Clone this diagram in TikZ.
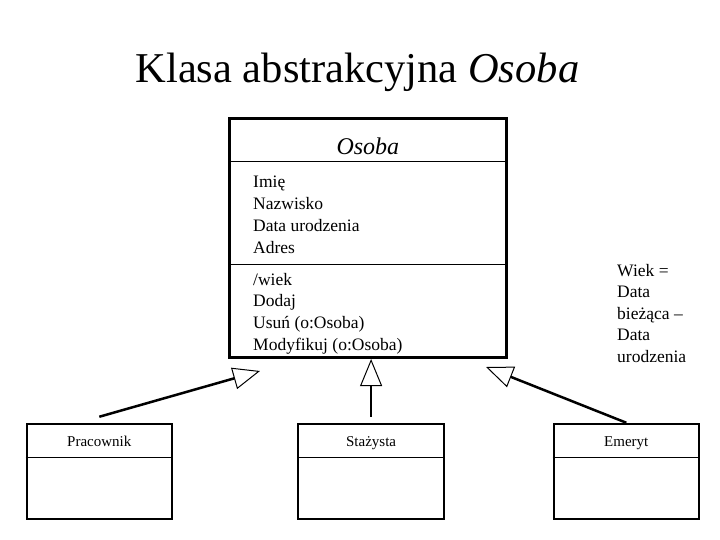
\documentclass[tikz,border=0pt]{standalone}
\usepackage{fontspec}
\setmainfont{Liberation Serif}
\usetikzlibrary{arrows.meta}

\tikzset{
  classbox/.style={draw, line width=3pt, inner sep=0pt, minimum width=276.7pt, minimum height=239pt},
  subbox/.style={draw, line width=2pt, inner sep=0pt, minimum width=145.3pt, minimum height=95.3pt},
  boxtext/.style={inner sep=0pt, anchor=base west, font=\fontsize{17.5}{21}\selectfont},
  subtext/.style={inner sep=0pt, anchor=base, font=\fontsize{15}{18}\selectfont},
  gen/.style={line width=2.5pt, -{Triangle[open, length=27pt, width=22pt, line width=1pt]}},
}

\begin{document}
\begin{tikzpicture}[x=1pt,y=-1pt]
				\useasboundingbox (0,0) rectangle (720,540);
				%draw title
				\node[inner sep=0pt, anchor=base, font=\fontsize{42.5}{50}\selectfont] (title) at (357.4,83) {Klasa abstrakcyjna \textit{Osoba}};
				%draw main class
				\node[classbox] (osoba) at (367.85,238) {};
				\node[inner sep=0pt, anchor=base, font=\fontsize{24}{28}\selectfont\itshape] (osobaname) at (367.85,155) {Osoba};
				\draw[line width=1pt] (osoba.west |- 0,162) -- (osoba.east |- 0,162);
				\draw[line width=1pt] (osoba.west |- 0,264) -- (osoba.east |- 0,264);
				%draw attributes
				\foreach \t [count=\i] in {Imię, Nazwisko, {Data urodzenia}, Adres}{
					\node[boxtext] (attr\i) at (253,166.3+21.7*\i) {\t};
				}
				%draw operations
				\foreach \t [count=\i] in {/wiek, Dodaj, {Usuń (o:Osoba)}, {Modyfikuj (o:Osoba)}}{
					\node[boxtext] (op\i) at (253,263.3+21.7*\i) {\t};
				}
				%draw note
				\foreach \t [count=\i] in {{Wiek =}, Data, {bieżąca –}, Data, urodzenia}{
					\node[boxtext] (note\i) at (617,254.5+21.5*\i) {\t};
				}
				%draw subclasses
				\foreach \n/\x/\t in {prac/99.3/Pracownik, staz/371.1/Stażysta, emer/626.3/Emeryt}{
					\node[subbox] (\n) at (\x,471.4) {};
					\node[subtext] (\n-name) at (\x,446) {\t};
					\draw[line width=1pt] (\n.west |- 0,457.3) -- (\n.east |- 0,457.3);
				}
				%draw generalisations
				\coordinate (ptip) at (260,371);
				\coordinate (etip) at (486,367);
				\draw[gen] ([yshift=6pt]prac.north) -- (ptip);
				\draw[gen] ([yshift=6pt]staz.north) -- (staz.north |- osoba.south);
				\draw[gen] (emer.north) -- (etip);
\end{tikzpicture}
\end{document}
